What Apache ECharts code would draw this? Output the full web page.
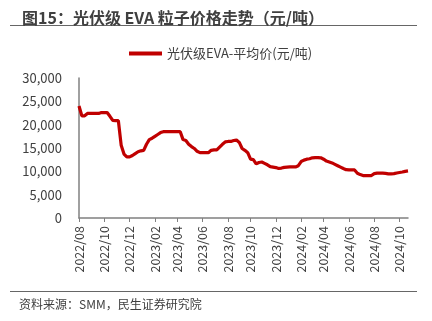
<!DOCTYPE html>
<html><head><meta charset="utf-8">
<script src="https://cdn.jsdelivr.net/npm/echarts@6/dist/echarts.min.js"></script>
<style>html,body{margin:0;padding:0;background:#fff}#c{width:432px;height:321px}</style>
</head><body><div id="c"></div>
<script>
const startDate = '2022-08-01';
const weekCount = 118;
const seriesName = '光伏级EVA-平均价(元/吨)';
const yTicks = [0, 5000, 10000, 15000, 20000, 25000, 30000];
const prices = [
24000,21900,21900,22400,22400,22400,22400,22400,22600,22600,
22600,21800,20900,20850,20850,15600,13700,13100,13100,13400,
13800,14200,14400,14500,15800,16800,17100,17500,17900,18300,
18500,18500,18500,18500,18500,18500,18500,16800,16600,15800,
15300,14900,14300,14000,14000,14000,14000,14500,14600,14600,
15200,15800,16300,16400,16400,16600,16700,16200,14900,14500,
14000,12600,12500,11600,11900,12000,11700,11400,11000,10900,
10800,10600,10700,10850,10900,10950,10950,10950,11200,12100,
12400,12600,12700,12900,12950,12950,12900,12600,12200,12000,
11800,11500,11200,10900,10600,10350,10300,10300,10300,9600,
9300,9100,9100,9100,9100,9500,9600,9600,9600,9550,
9450,9450,9500,9650,9750,9850,10000,10100
];
const dates = [];
const d0 = new Date(startDate + 'T00:00:00Z');
for (let i = 0; i < weekCount; i++) {
  const d = new Date(d0.getTime() + i * 7 * 86400000);
  dates.push(d.getUTCFullYear() + '/' + String(d.getUTCMonth() + 1).padStart(2, '0') + '/' + String(d.getUTCDate()).padStart(2, '0'));
}
function isLabel(idx, val) {
  const p = val.split('/');
  return parseInt(p[2], 10) <= 7 && parseInt(p[1], 10) % 2 === 0;
}
const FONT = '"Noto Sans CJK SC", sans-serif';
const chart = echarts.init(document.getElementById('c'));
chart.setOption({
  animation: false,
  textStyle: { fontFamily: FONT },
  title: {
    text: '图15：光伏级 EVA 粒子价格走势（元/吨）',
    left: 17, top: 5,
    textStyle: { fontSize: 16, fontWeight: 'bold', color: '#404040', fontFamily: FONT }
  },
  graphic: [
    { type: 'line', shape: { x1: 10, y1: 25.5, x2: 417, y2: 25.5 }, style: { stroke: '#666', lineWidth: 1.2 } },
    { type: 'line', shape: { x1: 10, y1: 291.5, x2: 417, y2: 291.5 }, style: { stroke: '#666', lineWidth: 1.2 } },
    { type: 'text', left: 19, top: 298, style: { text: '资料来源：SMM，民生证券研究院', fontSize: 12, fill: '#404040', fontFamily: FONT } }
  ],
  legend: {
    top: 42, left: 124,
    itemWidth: 33, itemHeight: 4, itemGap: 4,
    icon: 'rect',
    textStyle: { fontSize: 13, color: '#404040', fontFamily: FONT },
    data: [seriesName]
  },
  grid: { left: 79, right: 24, top: 78, bottom: 103, containLabel: false },
  xAxis: {
    type: 'category',
    data: dates,
    boundaryGap: false,
    axisLine: { lineStyle: { color: '#808080', width: 1.5 } },
    axisTick: { interval: isLabel, length: 4, lineStyle: { color: '#808080' } },
    axisLabel: {
      interval: isLabel, rotate: 90, margin: 8,
      fontSize: 12.5, color: '#404040', fontFamily: FONT,
      formatter: v => v.slice(0, 7)
    }
  },
  yAxis: {
    type: 'value', min: 0, max: 30000, interval: 5000,
    splitLine: { show: false },
    axisLine: { show: true, lineStyle: { color: '#808080', width: 1.5 } },
    axisTick: { show: false },
    axisLabel: {
      margin: 17, fontSize: 13, color: '#404040', fontFamily: FONT,
      formatter: v => yTicks.includes(v) ? v.toLocaleString('en-US') : ''
    }
  },
  series: [{
    name: seriesName,
    type: 'line',
    data: prices,
    showSymbol: false,
    lineStyle: { color: '#C00000', width: 3.2 },
    itemStyle: { color: '#C00000' }
  }]
});
</script></body></html>
